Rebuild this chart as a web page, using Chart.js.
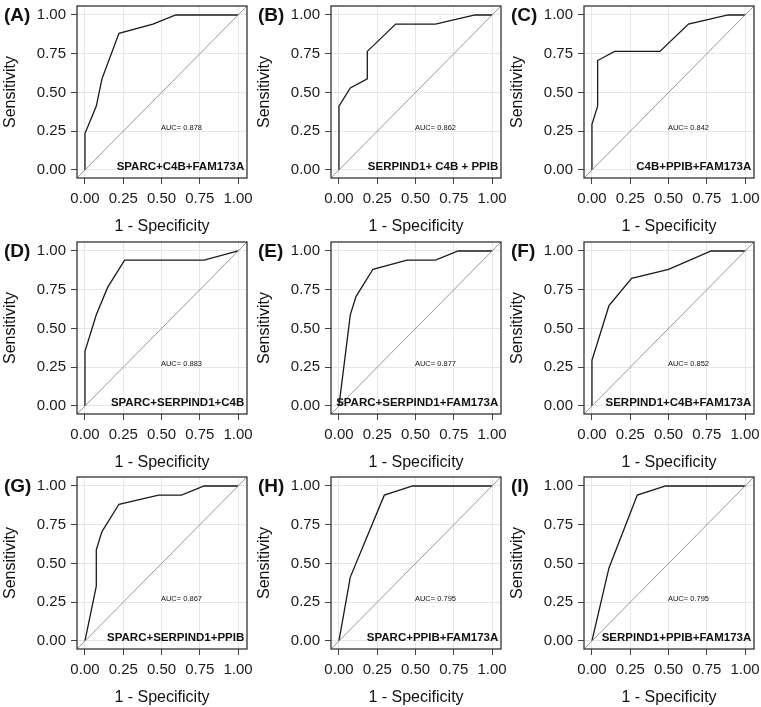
<!DOCTYPE html>
<html lang="en">
<head>
  <meta charset="UTF-8">
  <title>ROC curves of gene combinations</title>
  <script src="https://cdn.jsdelivr.net/npm/chart.js"></script>
  <style>
    body {
      margin: 0;
      background-color: #ffffff;
      font-family: "Liberation Sans", Arial, sans-serif;
    }
    #grid {
      position: relative;
      width: 761px;
      height: 707px;
    }
    .panel {
      position: absolute;
      width: 254px;
      height: 236px;
    }
  </style>
</head>
<body>
  <div id="grid"></div>

  <script>
    // ROC points (1 - specificity, sensitivity)
    const fprA = [0, 0, 0.074, 0.111, 0.222, 0.444, 0.593, 1];
    const tprA = [0, 0.235, 0.412, 0.588, 0.882, 0.941, 1, 1];
    const fprB = [0, 0, 0.074, 0.185, 0.185, 0.370, 0.630, 0.889, 1];
    const tprB = [0, 0.412, 0.529, 0.588, 0.765, 0.941, 0.941, 1, 1];
    const fprC = [0, 0, 0.037, 0.037, 0.148, 0.444, 0.630, 0.889, 1];
    const tprC = [0, 0.294, 0.412, 0.706, 0.765, 0.765, 0.941, 1, 1];
    const fprD = [0, 0, 0.074, 0.148, 0.259, 0.778, 1];
    const tprD = [0, 0.353, 0.588, 0.765, 0.941, 0.941, 1];
    const fprE = [0, 0.074, 0.111, 0.222, 0.444, 0.630, 0.778, 1];
    const tprE = [0, 0.588, 0.706, 0.882, 0.941, 0.941, 1, 1];
    const fprF = [0, 0, 0.111, 0.259, 0.500, 0.778, 1];
    const tprF = [0, 0.294, 0.647, 0.824, 0.882, 1, 1];
    const fprG = [0, 0.074, 0.074, 0.111, 0.222, 0.481, 0.630, 0.778, 1];
    const tprG = [0, 0.353, 0.588, 0.706, 0.882, 0.941, 0.941, 1, 1];
    const fprH = [0, 0.074, 0.296, 0.481, 1];
    const tprH = [0, 0.412, 0.941, 1, 1];
    const fprI = [0, 0.111, 0.296, 0.481, 1];
    const tprI = [0, 0.471, 0.941, 1, 1];

    const panelLetters = ['(A)', '(B)', '(C)', '(D)', '(E)', '(F)', '(G)', '(H)', '(I)'];
    const panelNames = [
      'SPARC+C4B+FAM173A', 'SERPIND1+ C4B + PPIB', 'C4B+PPIB+FAM173A',
      'SPARC+SERPIND1+C4B', 'SPARC+SERPIND1+FAM173A', 'SERPIND1+C4B+FAM173A',
      'SPARC+SERPIND1+PPIB', 'SPARC+PPIB+FAM173A', 'SERPIND1+PPIB+FAM173A'
    ];
    const aucValues = ['0.878', '0.862', '0.842', '0.883', '0.877', '0.852', '0.867', '0.795', '0.795'];
    const fprList = [fprA, fprB, fprC, fprD, fprE, fprF, fprG, fprH, fprI];
    const tprList = [tprA, tprB, tprC, tprD, tprE, tprF, tprG, tprH, tprI];

    const tickValues = [0, 0.25, 0.5, 0.75, 1];
    const chanceLine = [-0.1, 1.1];

    const FONT = '"Liberation Sans", Arial, sans-serif';

    // draws the panel box, the letter, the AUC note and the combination name
    const panelText = {
      id: 'panelText',
      afterDraw(chart, args, opts) {
        const { ctx, chartArea: a, scales: { x, y } } = chart;
        ctx.save();
        ctx.strokeStyle = '#333333';
        ctx.lineWidth = 1.3;
        ctx.strokeRect(a.left, a.top, a.width, a.height);

        ctx.fillStyle = '#111111';
        ctx.textBaseline = 'middle';
        ctx.font = 'bold 19px ' + FONT;
        ctx.textAlign = 'left';
        ctx.fillText(opts.letter, 4, 16);

        ctx.font = '7.5px ' + FONT;
        ctx.textAlign = 'center';
        ctx.fillText('AUC= ' + opts.auc, x.getPixelForValue(0.63), y.getPixelForValue(0.272));

        ctx.font = 'bold 11.5px ' + FONT;
        ctx.textAlign = 'right';
        ctx.fillText(opts.name, x.getPixelForValue(1.04), y.getPixelForValue(0.02));
        ctx.restore();
      }
    };

    function axis(title, isX) {
      return {
        type: 'linear',
        min: -0.052,
        max: 1.058,
        afterBuildTicks: scale => { scale.ticks = tickValues.map(v => ({ value: v })); },
        afterFit: scale => {
          // fixed panel geometry, labels may overflow into the margins
          if (isX) scale.height = 58; else scale.width = 77;
          scale.paddingLeft = 0;
          scale.paddingRight = 0;
          scale.paddingTop = 0;
          scale.paddingBottom = 0;
        },
        border: { display: false },
        grid: {
          color: '#e6e6e6',
          lineWidth: 1,
          tickLength: 6,
          tickColor: '#444444'
        },
        ticks: {
          color: '#1a1a1a',
          font: { family: FONT, size: 15 },
          padding: isX ? 6 : 5,
          maxRotation: 0,
          autoSkip: false,
          callback: v => v.toFixed(2)
        },
        title: {
          display: true,
          text: title,
          color: '#111111',
          font: { family: FONT, size: 16 },
          padding: { top: 1, bottom: 0 }
        }
      };
    }

    function createPanel(i) {
      const div = document.createElement('div');
      div.className = 'panel';
      const col = i % 3, row = Math.floor(i / 3);
      div.style.left = [0, 254, 507][col] + 'px';
      div.style.top = [0, 236, 471][row] + 'px';
      const canvas = document.createElement('canvas');
      canvas.width = 254;
      canvas.height = 236;
      div.appendChild(canvas);
      document.getElementById('grid').appendChild(div);

      const roc = fprList[i].map((f, k) => ({ x: f, y: tprList[i][k] }));
      const diag = chanceLine.map(v => ({ x: v, y: v }));

      new Chart(canvas.getContext('2d'), {
        type: 'scatter',
        data: {
          datasets: [
            {
              data: diag,
              showLine: true,
              borderColor: '#8c8c8c',
              borderWidth: 0.9,
              pointRadius: 0,
              clip: 0
            },
            {
              data: roc,
              showLine: true,
              borderColor: '#1a1a1a',
              borderWidth: 1.3,
              pointRadius: 0,
              tension: 0,
              clip: 0
            }
          ]
        },
        options: {
          responsive: false,
          animation: false,
          devicePixelRatio: 1,
          layout: { padding: { left: 0, right: 7, top: 6, bottom: 0 } },
          plugins: {
            legend: { display: false },
            tooltip: { enabled: false },
            panelText: { letter: panelLetters[i], name: panelNames[i], auc: aucValues[i] }
          },
          scales: {
            x: axis('1 - Specificity', true),
            y: axis('Sensitivity', false)
          }
        },
        plugins: [panelText]
      });
    }

    for (let i = 0; i < 9; i++) createPanel(i);
  </script>
</body>
</html>
